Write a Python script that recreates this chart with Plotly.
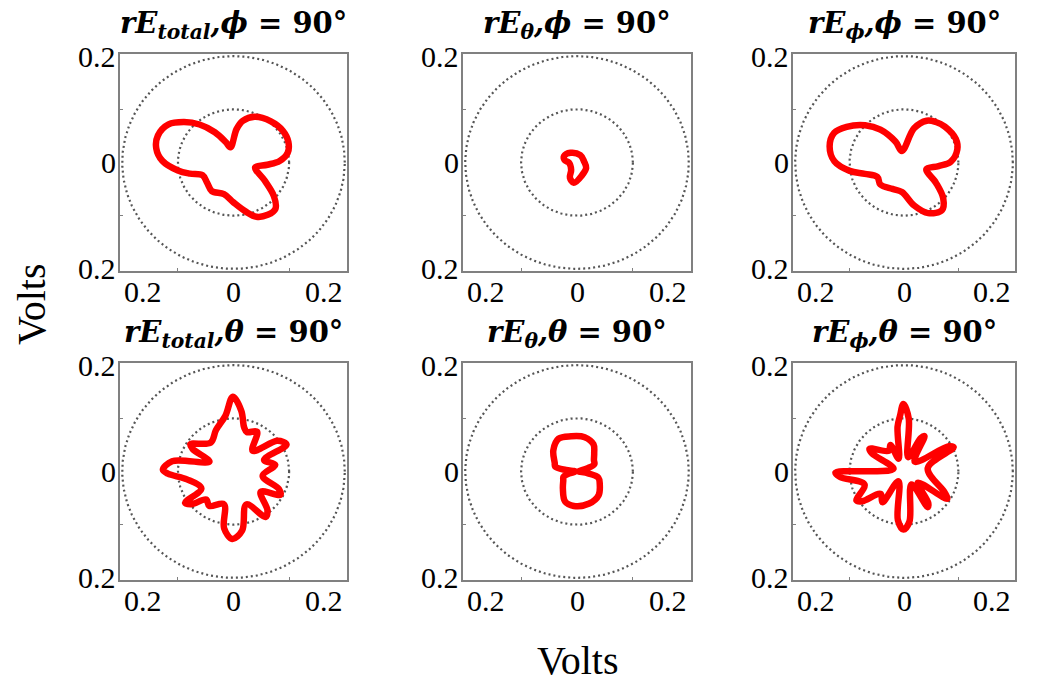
import numpy as np
import plotly.graph_objects as go

W, H = 1046, 682

# ---------------- data ----------------
tick_vals = [-0.2, 0.0, 0.2]
tick_text = ["0.2", "0", "0.2"]
ring_radii = [0.1, 0.2]
minor_tick_vals = [-0.1, 0.1]

# rE_total, phi = 90 deg
theta_tot_phi = [101, 85, 78, 66, 49, 34, 21.5, 10.5, 2, -4, -13, -31, -41, -49, -58, -68,
                 -76.5, -90, -106, -126, -140.5, -156.5, -165, -171.5, -181.5, -191, -200.5,
                 -211.5, -220.5, -229.5, -239.5, -250]
r_tot_phi = [0.029, 0.063, 0.080, 0.094, 0.1025, 0.107, 0.106, 0.099, 0.083, 0.061, 0.040,
             0.065, 0.096, 0.115, 0.116, 0.110, 0.095, 0.075, 0.062, 0.0665, 0.061, 0.0605,
             0.081, 0.101, 0.128, 0.1415, 0.145, 0.137, 0.117, 0.094, 0.066, 0.041]

# rE_theta, phi = 90 deg
theta_th_phi = [169, 152.5, 122.5, 67, 8, -32, -70, -98.5, -114, -127, -180]
r_th_phi = [0.0225, 0.026, 0.0216, 0.015, 0.0129, 0.0193, 0.0258, 0.0386, 0.0312, 0.0174, 0.0145]

# rE_phi, phi = 90 deg
theta_ph_phi = [100, 74, 62, 52.5, 42, 25, 14, 1, -6, -17, -33, -43, -52, -65, -77, -94, -113,
                -136.5, -151, -163.5, -171, -181, -192.5, -203.5, -212.5, -224.5, -235, -248.5]
r_ph_phi = [0.022, 0.067, 0.089, 0.096, 0.101, 0.105, 0.101, 0.086, 0.064, 0.043, 0.070, 0.0985,
            0.1135, 0.105, 0.083, 0.0556, 0.054, 0.060, 0.056, 0.075, 0.101, 0.128, 0.140,
            0.140, 0.125, 0.100, 0.0755, 0.042]

# rE_total, theta = 90 deg
theta_tot_th = [90.5, 83, 77, 72, 60.5, 48.5, 36, 28, 21.5, 9.5, -9, -22, -27.5, -38, -50, -56,
                -69.5, -82, -91, -99, -105.5, -124, -133, -141, -146, -151, -170, -178, -181.5,
                -190, -203, -210, -213.5, -233, -248, -262.1]
r_tot_th = [0.1405, 0.115, 0.085, 0.078, 0.086, 0.052, 0.098, 0.108, 0.059, 0.076, 0.053, 0.088,
            0.095, 0.062, 0.095, 0.103, 0.066, 0.112, 0.127, 0.108, 0.064, 0.078, 0.072, 0.098,
            0.105, 0.066, 0.085, 0.118, 0.127, 0.112, 0.047, 0.085, 0.093, 0.068, 0.084, 0.106]

# rE_theta, theta = 90 deg
theta_th_th = [5, 18, 24, 35, 48, 60, 78, 99, 118, 137, 158, 167, 172, 180, 195, 202, 215, 232,
               249, 265, 290, 311, 330, 343, 350, 360]
r_th_th = [0.003, 0.020, 0.034, 0.037, 0.046, 0.059, 0.066, 0.067, 0.070, 0.058, 0.043, 0.040,
           0.020, 0.003, 0.015, 0.026, 0.030, 0.041, 0.060, 0.065, 0.064, 0.059, 0.047, 0.040,
           0.020, 0.003]

# rE_phi, theta = 90 deg
theta_ph_th = [90.5, 85, 74, 64, 60.5, 43, 30, 26.5, 8, -28, -33, -39.5, -53, -57, -60.5, -84,
               -90.5, -97, -119, -124.5, -135.5, -144, -148, -161.5, -175, -179, -195, -210,
               -214, -234.5, -243.5, -247.5, -262, -266]
r_ph_th = [0.127, 0.100, 0.028, 0.070, 0.0765, 0.027, 0.095, 0.102, 0.044, 0.085, 0.0945, 0.033,
           0.074, 0.080, 0.028, 0.095, 0.109, 0.092, 0.021, 0.070, 0.060, 0.095, 0.103, 0.0765,
           0.118, 0.126, 0.020, 0.068, 0.0765, 0.048, 0.0556, 0.026, 0.085, 0.105]

titles = [
    "<b><i>rE</i></b><sub><b><i>total</i></b></sub><b><i>,ϕ</i> = 90°</b>",
    "<b><i>rE</i></b><sub><b><i>θ</i></b></sub><b><i>,ϕ</i> = 90°</b>",
    "<b><i>rE</i></b><sub><b><i>ϕ</i></b></sub><b><i>,ϕ</i> = 90°</b>",
    "<b><i>rE</i></b><sub><b><i>total</i></b></sub><b><i>,θ</i> = 90°</b>",
    "<b><i>rE</i></b><sub><b><i>θ</i></b></sub><b><i>,θ</i> = 90°</b>",
    "<b><i>rE</i></b><sub><b><i>ϕ</i></b></sub><b><i>,θ</i> = 90°</b>",
]
patterns = [
    (theta_tot_phi, r_tot_phi), (theta_th_phi, r_th_phi), (theta_ph_phi, r_ph_phi),
    (theta_tot_th, r_tot_th), (theta_th_th, r_th_th), (theta_ph_th, r_ph_th),
]
axis_title = "Volts"

# ---------------- layout geometry ----------------
col_px = [(120, 347), (463, 691), (793, 1015)]
row_px = [(54, 271), (363, 580)]

fig = go.Figure()
ring_t = np.linspace(0, 2 * np.pi, 400)
serif = "Liberation Serif"
annotations = []
lim = 0.204

for i, ((th, rr), title) in enumerate(zip(patterns, titles)):
    n = i + 1
    xa = "x" if n == 1 else f"x{n}"
    ya = "y" if n == 1 else f"y{n}"
    row, col = divmod(i, 3)
    x0, x1 = col_px[col]
    y0, y1 = row_px[row]
    xdom = [x0 / W, x1 / W]
    ydom = [1 - y1 / H, 1 - y0 / H]

    for rad in ring_radii:
        fig.add_trace(go.Scatter(x=rad * np.cos(ring_t), y=rad * np.sin(ring_t), mode="lines",
                                 line=dict(color="#555555", width=2.2, dash="2px,3px"),
                                 xaxis=xa, yaxis=ya, hoverinfo="skip", showlegend=False))
    tr = np.deg2rad(np.array(th + [th[0]], dtype=float))
    rv = np.array(rr + [rr[0]], dtype=float)
    fig.add_trace(go.Scatter(x=rv * np.cos(tr), y=rv * np.sin(tr), mode="lines",
                             line=dict(color="#ff0000", width=6.5, shape="spline", smoothing=1.0),
                             xaxis=xa, yaxis=ya, showlegend=False))

    axcommon = dict(range=[-lim, lim], showgrid=False, zeroline=False, showline=True,
                    mirror=True, linecolor="#808080", linewidth=1.5, showticklabels=False,
                    ticks="", fixedrange=True,
                    minor=dict(tickvals=minor_tick_vals, ticks="inside", ticklen=3,
                               tickcolor="#808080", tickwidth=1))
    fig.layout[f"xaxis{'' if n == 1 else n}"] = dict(domain=xdom, anchor=ya, **axcommon)
    fig.layout[f"yaxis{'' if n == 1 else n}"] = dict(domain=ydom, anchor=xa, **axcommon)

    # tick labels
    for v, t, anc in zip(tick_vals, tick_text, ["left", "center", "right"]):
        annotations.append(dict(x=v, xref=xa, y=0, yref=f"{ya} domain", text=t, showarrow=False,
                                xanchor=anc, yanchor="top", yshift=-2,
                                font=dict(family=serif, size=30, color="black")))
        annotations.append(dict(x=0, xref=f"{xa} domain", y=v, yref=ya, text=t, showarrow=False,
                                xanchor="right", yanchor="middle", xshift=-2,
                                font=dict(family=serif, size=30, color="black")))
    # title
    annotations.append(dict(x=(xdom[0] + xdom[1]) / 2, xref="paper", y=ydom[1], yref="paper",
                            text=title, showarrow=False, xanchor="center", yanchor="bottom",
                            yshift=8, font=dict(family="DejaVu Serif", size=29, color="black")))

annotations.append(dict(x=578 / W, y=1 - 660 / H, xref="paper", yref="paper", text=axis_title,
                        showarrow=False, xanchor="center", yanchor="middle",
                        font=dict(family=serif, size=40, color="black")))
annotations.append(dict(x=31 / W, y=1 - 304 / H, xref="paper", yref="paper", text=axis_title,
                        showarrow=False, xanchor="center", yanchor="middle", textangle=-90,
                        font=dict(family=serif, size=40, color="black")))

fig.update_layout(width=W, height=H, autosize=False, margin=dict(l=0, r=0, t=0, b=0),
                  paper_bgcolor="white", plot_bgcolor="white", annotations=annotations,
                  showlegend=False)
fig.write_html("out.html")
